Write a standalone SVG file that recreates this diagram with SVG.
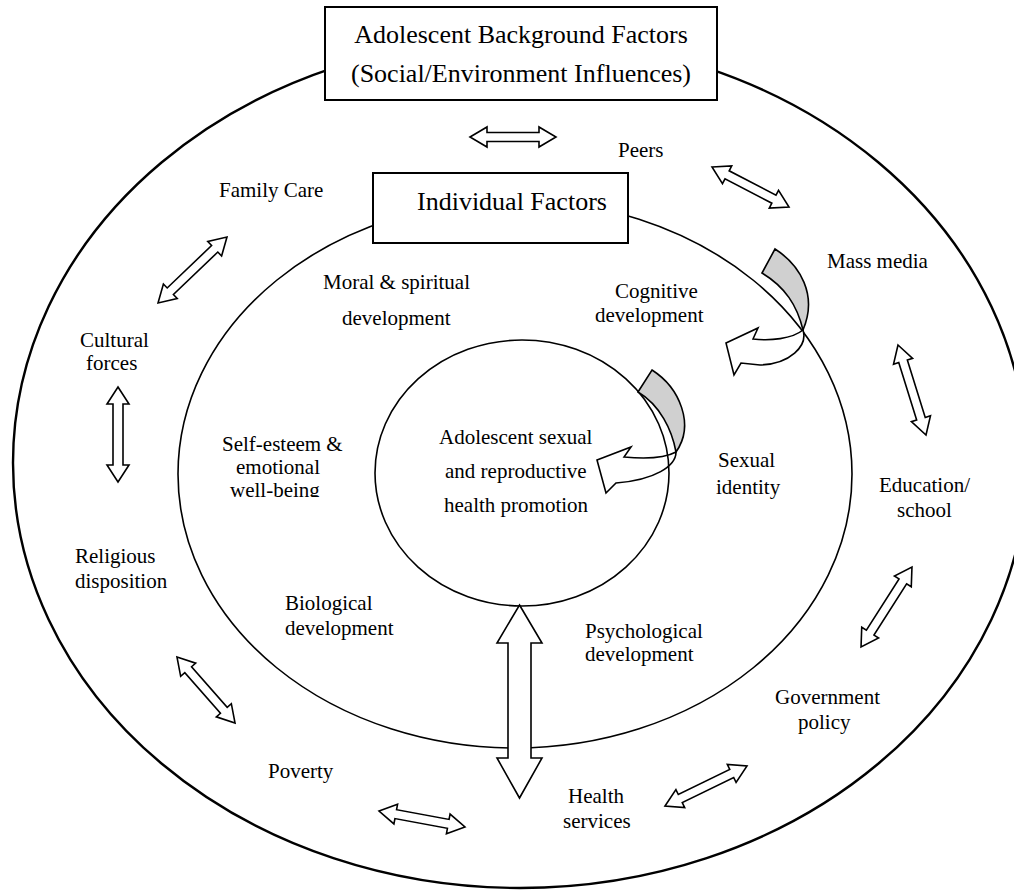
<svg xmlns="http://www.w3.org/2000/svg" width="1014" height="890" viewBox="0 0 1014 890">
<style>
text{font-family:"Liberation Serif","Times New Roman",serif;fill:#000}
.lbl{font-size:21px}
.ttl{font-size:26px}
.ring{fill:none;stroke:#000}
.box{fill:#fff;stroke:#000;stroke-width:2}
.dbl{fill:#fff;stroke:#000;stroke-width:1.6;stroke-linejoin:miter}
.gray{fill:#d0d0d0;stroke:#000;stroke-width:1.6}
.wht{fill:#fff;stroke:#000;stroke-width:1.6}
</style>
<defs>
<clipPath id="clipWB"><rect x="200" y="420" width="200" height="77"/></clipPath>
</defs>
<rect width="1014" height="890" fill="#fff"/>
<g id="rings">
<ellipse id="outer" class="ring" cx="520" cy="463" rx="507" ry="425" stroke-width="2.4"/>
<ellipse id="middle" class="ring" cx="515" cy="474" rx="337" ry="274" stroke-width="1.6"/>
<ellipse id="inner" class="ring" cx="522" cy="473" rx="147" ry="133" stroke-width="1.6"/>
</g>
<g id="connectors">
<polygon class="dbl" transform="translate(513,137)" points="-43,0 -26,-10 -26,-4.5 26,-4.5 26,-10 43,0 26,10 26,4.5 -26,4.5 -26,10"/>
<polygon class="dbl" transform="translate(750.5,187) rotate(27.5)" points="-43.4,0 -26.4,-10 -26.4,-4.5 26.4,-4.5 26.4,-10 43.4,0 26.4,10 26.4,4.5 -26.4,4.5 -26.4,10"/>
<polygon class="dbl" transform="translate(192.5,270) rotate(-43.7)" points="-47.7,0 -30.7,-10 -30.7,-4.5 30.7,-4.5 30.7,-10 47.7,0 30.7,10 30.7,4.5 -30.7,4.5 -30.7,10"/>
<polygon class="dbl" transform="translate(118,434.5) rotate(90)" points="-47.5,0 -30.5,-11 -30.5,-5 30.5,-5 30.5,-11 47.5,0 30.5,11 30.5,5 -30.5,5 -30.5,11"/>
<polygon class="dbl" transform="translate(206,690) rotate(48.7)" points="-44,0 -27,-10 -27,-4.5 27,-4.5 27,-10 44,0 27,10 27,4.5 -27,4.5 -27,10"/>
<polygon class="dbl" transform="translate(422,819) rotate(10.5)" points="-43.7,0 -26.7,-10 -26.7,-4.5 26.7,-4.5 26.7,-10 43.7,0 26.7,10 26.7,4.5 -26.7,4.5 -26.7,10"/>
<polygon class="dbl" transform="translate(706,786) rotate(-26)" points="-45.6,0 -28.6,-10 -28.6,-4.5 28.6,-4.5 28.6,-10 45.6,0 28.6,10 28.6,4.5 -28.6,4.5 -28.6,10"/>
<polygon class="dbl" transform="translate(886.5,607) rotate(-57.5)" points="-47.4,0 -30.4,-10 -30.4,-4.5 30.4,-4.5 30.4,-10 47.4,0 30.4,10 30.4,4.5 -30.4,4.5 -30.4,10"/>
<polygon class="dbl" transform="translate(912,390) rotate(72.7)" points="-47.1,0 -30.1,-10 -30.1,-4.5 30.1,-4.5 30.1,-10 47.1,0 30.1,10 30.1,4.5 -30.1,4.5 -30.1,10"/>
<polygon id="bigArrow" class="dbl" points="519.5,605 542,643 531,643 531,758 542,758 519.5,798 497,758 508,758 508,643 497,643"/>
<g id="curlOuter">
<path class="gray" d="M762,273 L775,249 C800,265 818,295 803,330 C797,305 785,287 762,273 Z"/>
<path class="wht" d="M726,343 L758,328 L753,339 C770,341 792,339 803,330 C808,346 790,364 760,365 L741,363 L734,375 Z"/>
</g>
<g id="curlInner">
<path class="gray" d="M638,392 L652,370 C680,388 695,425 676,452 C672,430 660,405 638,392 Z"/>
<path class="wht" fill-opacity="0" d="M597,460 L631,447 L624,457 C645,459 665,458 676,452 C676,466 655,480 616,483 L606,493 Z"/>
</g>
</g>
<g id="node-background">
<rect class="box" x="325" y="7" width="392" height="93"/>
<text class="ttl" x="521" y="43" text-anchor="middle">Adolescent Background Factors</text>
<text class="ttl" x="521" y="82" text-anchor="middle">(Social/Environment Influences)</text>
</g>
<g id="node-individual">
<rect class="box" x="373" y="173" width="255" height="70"/>
<text class="ttl" x="417" y="210">Individual Factors</text>
</g>
<g id="node-center">
<text class="lbl" x="439" y="444">Adolescent sexual</text>
<text class="lbl" x="445" y="478">and reproductive</text>
<text class="lbl" x="444" y="512">health promotion</text>
</g>
<g id="node-peers"><text class="lbl" x="618" y="157">Peers</text></g>
<g id="node-family"><text class="lbl" x="219" y="197">Family Care</text></g>
<g id="node-massmedia"><text class="lbl" x="827" y="268">Mass media</text></g>
<g id="node-moral">
<text class="lbl" x="323" y="289">Moral &amp; spiritual</text>
<text class="lbl" x="342" y="325">development</text>
</g>
<g id="node-cognitive">
<text class="lbl" x="615" y="298">Cognitive</text>
<text class="lbl" x="595" y="322">development</text>
</g>
<g id="node-cultural">
<text class="lbl" x="80" y="347">Cultural</text>
<text class="lbl" x="86" y="370">forces</text>
</g>
<g id="node-selfesteem">
<text class="lbl" x="222" y="451">Self-esteem &amp;</text>
<text class="lbl" x="236" y="474">emotional</text>
<text class="lbl" x="230" y="497" clip-path="url(#clipWB)">well-being</text>
</g>
<g id="node-sexualid">
<text class="lbl" x="718" y="467">Sexual</text>
<text class="lbl" x="716" y="494">identity</text>
</g>
<g id="node-education">
<text class="lbl" x="879" y="492">Education/</text>
<text class="lbl" x="897" y="517">school</text>
</g>
<g id="node-religious">
<text class="lbl" x="75" y="563">Religious</text>
<text class="lbl" x="75" y="588">disposition</text>
</g>
<g id="node-biological">
<text class="lbl" x="285" y="610">Biological</text>
<text class="lbl" x="285" y="635">development</text>
</g>
<g id="node-psych">
<text class="lbl" x="585" y="638">Psychological</text>
<text class="lbl" x="585" y="661">development</text>
</g>
<g id="node-government">
<text class="lbl" x="775" y="704">Government</text>
<text class="lbl" x="798" y="729">policy</text>
</g>
<g id="node-poverty"><text class="lbl" x="268" y="778">Poverty</text></g>
<g id="node-health">
<text class="lbl" x="568" y="803">Health</text>
<text class="lbl" x="563" y="828">services</text>
</g>
</svg>
